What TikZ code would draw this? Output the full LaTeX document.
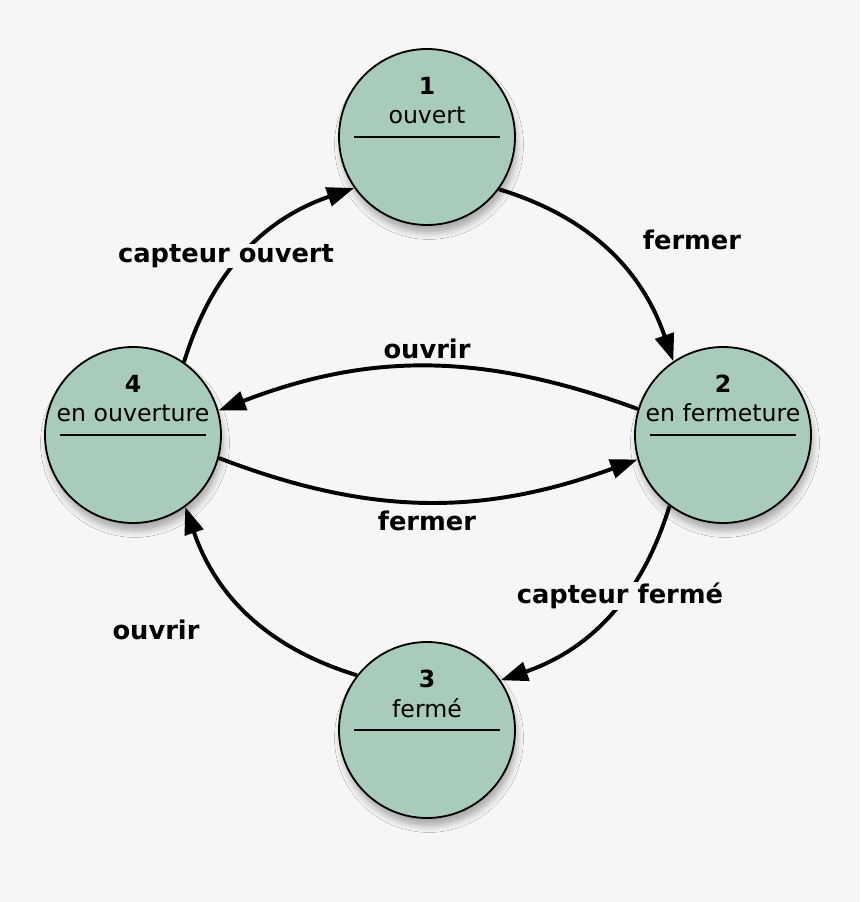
\documentclass[tikz,border=0pt]{standalone}
\usepackage{fontspec}
\setmainfont{DejaVu Sans}
\usetikzlibrary{arrows.meta,shadows.blur}
\definecolor{bgcol}{RGB}{246,246,246}
\definecolor{statefill}{RGB}{168,203,186}

\begin{document}
\begin{tikzpicture}[>={Triangle[length=6.8mm,width=4.8mm]},
  state/.style={draw,circle,line width=1.3pt,fill=statefill,minimum size=4.4cm,
    blur shadow={shadow xshift=0.5mm,shadow yshift=-2mm,shadow blur radius=1.6mm,shadow opacity=30}},
  num/.style={font=\fontsize{16.8}{20}\selectfont\bfseries,inner sep=0pt},
  statetext/.style={font=\fontsize{16.8}{20}\selectfont,inner sep=0pt},
  sep/.style={line width=1pt},
  lbl/.style={font=\fontsize{18.3}{22}\selectfont\bfseries,inner sep=1pt},
  halo/.style={fill=bgcol,inner sep=0.5pt},
  trans/.style={->,line width=2.8pt}]
  \path[use as bounding box,fill=bgcol] (-10.675,-11.675) rectangle (10.825,10.875);

  % states
  \node[state] (s1) at (0,7.45) {};
  \node[state] (s2) at (7.4,0) {};
  \node[state] (s3) at (0,-7.375) {};
  \node[state] (s4) at (-7.35,0) {};

  \node[num] (s1n) at ([yshift=1.28cm]s1.center) {1};
  \node[statetext] (s1t) at ([yshift=0.55cm]s1.center) {ouvert};
  \draw[sep] ([xshift=-1.83cm]s1.center) -- ([xshift=1.83cm]s1.center);
  \node[num] (s2n) at ([yshift=1.28cm]s2.center) {2};
  \node[statetext] (s2t) at ([yshift=0.55cm]s2.center) {en fermeture};
  \draw[sep] ([xshift=-1.83cm]s2.center) -- ([xshift=1.83cm]s2.center);
  \node[num] (s3n) at ([yshift=1.28cm]s3.center) {3};
  \node[statetext] (s3t) at ([yshift=0.55cm]s3.center) {fermé};
  \draw[sep] ([xshift=-1.83cm]s3.center) -- ([xshift=1.83cm]s3.center);
  \node[num] (s4n) at ([yshift=1.28cm]s4.center) {4};
  \node[statetext] (s4t) at ([yshift=0.55cm]s4.center) {en ouverture};
  \draw[sep] ([xshift=-1.83cm]s4.center) -- ([xshift=1.83cm]s4.center);

  % transitions
  \draw[trans] (s1.-36) to[out=-17,in=109] (s2.124);
  \draw[trans] (s2.-127) to[out=-107,in=19] (s3.34);
  \draw[trans] (s3.142) to[out=163,in=-71] (s4.-54);
  \draw[trans] (s4.55) to[out=73,in=-161] (s1.-145);
  \draw[trans] (s2.163) to[out=160,in=21] (s4.16);
  \draw[trans] (s4.-15) to[out=-21,in=-160] (s2.-164);

  % labels
  \node[lbl] (l12) at (6.625,4.875) {fermer};
  \node[lbl,halo] (l41) at (-5.025,4.475) {capteur ouvert};
  \node[lbl] (l24) at (0,2.15) {ouvrir};
  \node[lbl] (l42) at (0,-2.15) {fermer};
  \node[lbl,halo] (l23) at (4.825,-4.025) {capteur fermé};
  \node[lbl] (l34) at (-6.775,-4.875) {ouvrir};
\end{tikzpicture}
\end{document}
